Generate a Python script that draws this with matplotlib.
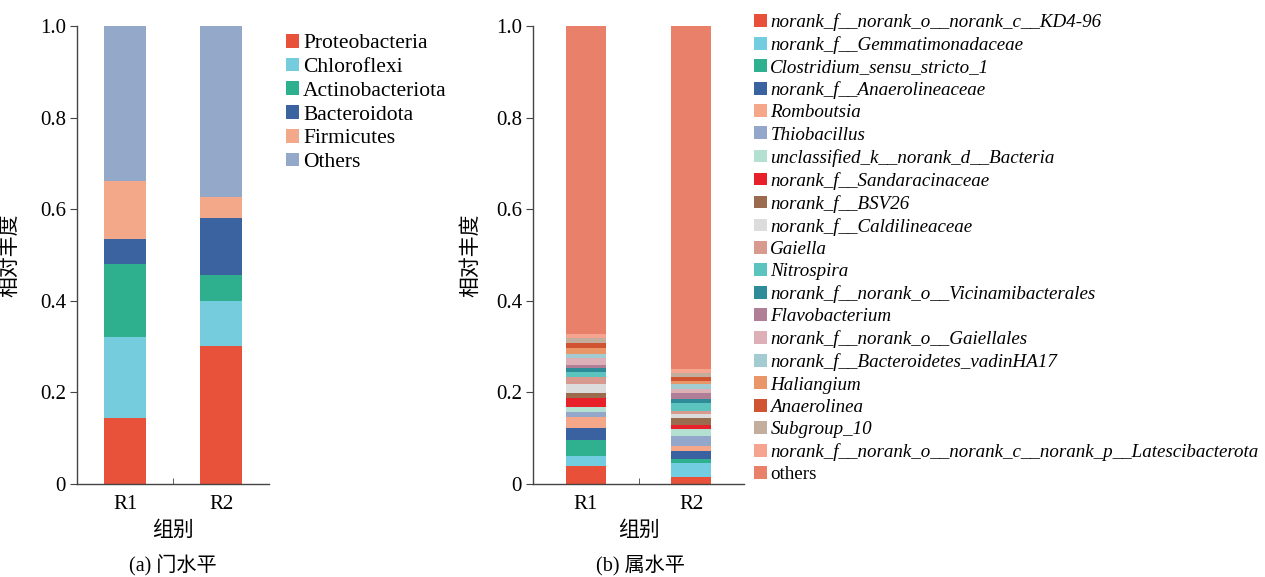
import matplotlib
matplotlib.use("Agg")
import matplotlib.pyplot as plt
import numpy as np

plt.rcParams['font.family'] = ['Liberation Serif', 'Noto Sans CJK SC']

groups = ["R1", "R2"]

# ---- (a) phylum level ----
phyla = ["Proteobacteria", "Chloroflexi", "Actinobacteriota", "Bacteroidota", "Firmicutes", "Others"]
phyla_r1 = [0.145, 0.175, 0.160, 0.054, 0.128, 0.338]
phyla_r2 = [0.302, 0.097, 0.058, 0.123, 0.046, 0.374]
phyla_colors = ["#E9523A", "#74CCDD", "#2EB08F", "#3A63A0", "#F4A88A", "#94A8C9"]

# ---- (b) genus level ----
genera = [
    "norank_f__norank_o__norank_c__KD4-96",
    "norank_f__Gemmatimonadaceae",
    "Clostridium_sensu_stricto_1",
    "norank_f__Anaerolineaceae",
    "Romboutsia",
    "Thiobacillus",
    "unclassified_k__norank_d__Bacteria",
    "norank_f__Sandaracinaceae",
    "norank_f__BSV26",
    "norank_f__Caldilineaceae",
    "Gaiella",
    "Nitrospira",
    "norank_f__norank_o__Vicinamibacterales",
    "Flavobacterium",
    "norank_f__norank_o__Gaiellales",
    "norank_f__Bacteroidetes_vadinHA17",
    "Haliangium",
    "Anaerolinea",
    "Subgroup_10",
    "norank_f__norank_o__norank_c__norank_p__Latescibacterota",
    "others",
]
genus_r1 = [0.0386, 0.023, 0.035, 0.0255, 0.024, 0.011, 0.0116, 0.020, 0.011, 0.018,
            0.0167, 0.0095, 0.0087, 0.0073, 0.016, 0.0073, 0.013, 0.0116, 0.010, 0.010, 0.6722]
genus_r2 = [0.0146, 0.031, 0.0095, 0.016, 0.011, 0.023, 0.015, 0.0087, 0.0146, 0.010,
            0.006, 0.0167, 0.0095, 0.0124, 0.0087, 0.011, 0.0073, 0.0095, 0.0087, 0.0073, 0.7495]
genus_colors = ["#E8503A", "#72CDE0", "#2FB08E", "#3A62A0", "#F5A889", "#93A7CA", "#B4E0D2",
                "#E8202A", "#9A6B4E", "#DCDCDC", "#D89A8E", "#5BC4BE", "#2E8C98", "#B07E96",
                "#DDB0B8", "#A3CBD2", "#E99669", "#D05332", "#C3AE9E", "#F4A48F", "#E9806A"]

W, H = 1265, 577
fig = plt.figure(figsize=(W / 100, H / 100), dpi=100)

ax1 = fig.add_axes([77 / W, 1 - 484 / H, 192 / W, 458 / H])
ax2 = fig.add_axes([533 / W, 1 - 484 / H, 211 / W, 458 / H])

cjk = ['Liberation Serif', 'Noto Sans CJK SC']


def stacked(ax, names, v1, v2, colors, width):
    x = np.arange(len(groups))
    bottom = np.zeros(len(groups))
    handles = []
    for name, a, b, c in zip(names, v1, v2, colors):
        vals = np.array([a, b])
        h = ax.bar(x, vals, width, bottom=bottom, color=c, label=name, linewidth=0)
        handles.append(h)
        bottom += vals
    ax.set_xlim(-0.5, 1.5)
    ax.set_ylim(0, 1.0)
    ax.set_xticks(x)
    ax.set_xticklabels(groups, fontsize=15)
    ax.tick_params(axis='x', length=0, pad=8)
    ax.set_xticks([0.5], minor=True)
    ax.tick_params(axis='x', which='minor', direction='in', length=4, color='#444444')
    ax.set_yticks([0, 0.2, 0.4, 0.6, 0.8, 1.0])
    ax.set_yticklabels(["0", "0.2", "0.4", "0.6", "0.8", "1.0"], fontsize=15)
    ax.tick_params(axis='y', direction='out', length=5, color='#444444', pad=3)
    for s in ['top', 'right']:
        ax.spines[s].set_visible(False)
    for s in ['left', 'bottom']:
        ax.spines[s].set_color('#444444')
        ax.spines[s].set_linewidth(1.0)
    ax.set_ylabel("相对丰度", fontsize=15, family=cjk)
    ax.set_xlabel("组别", fontsize=15, family=cjk)
    ax.xaxis.set_label_coords(0.5, -0.102)
    ax.xaxis.label.set_va('center')
    return handles


h1 = stacked(ax1, phyla, phyla_r1, phyla_r2, phyla_colors, 0.44)
h2 = stacked(ax2, genera, genus_r1, genus_r2, genus_colors, 0.38)
ax1.yaxis.set_label_coords((20 - 77) / 192, 0.5)
ax2.yaxis.set_label_coords((481 - 533) / 211, 0.5)

fig.legend(handles=h1, loc='upper left', bbox_to_anchor=(286 / W, 1 - 34 / H),
           frameon=False, fontsize=15.5, handlelength=0.6, handleheight=0.6,
           handletextpad=0.2, labelspacing=0.2, borderpad=0, borderaxespad=0)
leg2 = fig.legend(handles=h2, loc='upper left', bbox_to_anchor=(754 / W, 1 - 13 / H),
                  frameon=False, fontsize=13.7, handlelength=0.66, handleheight=0.66,
                  handletextpad=0.2, labelspacing=0.27, borderpad=0, borderaxespad=0)
for t in leg2.get_texts()[:-1]:
    t.set_fontstyle('italic')

fig.text(173 / W, 1 - 566 / H, "(a) 门水平", ha='center', va='center', fontsize=14.5, family=cjk)
fig.text(640 / W, 1 - 566 / H, "(b) 属水平", ha='center', va='center', fontsize=14.5, family=cjk)

fig.savefig("out.png", dpi=100, facecolor='white')
